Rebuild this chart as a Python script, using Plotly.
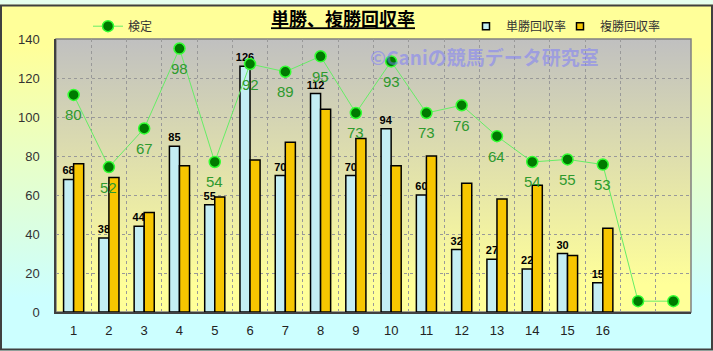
import base64
import plotly.graph_objects as go

# ---------------- data ----------------
categories = list(range(1, 19))
tick_labels = [str(i) for i in range(1, 17)] + ["", ""]
tansho = [68, 38, 44, 85, 55, 126, 70, 112, 70, 94, 60, 32, 27, 22, 30, 15, None, None]
fukusho = [76, 69, 51, 75, 59, 78, 87, 104, 89, 75, 80, 66, 58, 65, 29, 43, None, None]
kentei = [80, 52, 67, 98, 54, 92, 89, 95, 73, 93, 73, 76, 64, 54, 55, 53, 0, 0]
kentei_labels = [str(v) for v in kentei[:16]] + ["", ""]

BLUE = "#C4EEF4"
GOLD = "#F7C600"

W, H = 713, 351
ML, MR, MT, MB = 56, 22, 35, 39
PW, PH = W - ML - MR, H - MT - MB


def px_x(p):
    return (p - ML) / PW


def px_y(p):
    return 1 - (p - MT) / PH


def grad_uri(stops):
    s = "".join(f'<stop offset="{o}" stop-color="{c}"/>' for o, c in stops)
    svg = (f'<svg xmlns="http://www.w3.org/2000/svg" width="100" height="100" preserveAspectRatio="none">'
           f'<defs><linearGradient id="g" x1="0" y1="0" x2="0" y2="1">{s}</linearGradient></defs>'
           f'<rect width="100" height="100" fill="url(#g)"/></svg>')
    return "data:image/svg+xml;base64," + base64.b64encode(svg.encode()).decode()


fig = go.Figure()

fig.add_trace(go.Bar(
    x=categories, y=tansho, name="単勝回収率",
    marker=dict(color=BLUE, line=dict(color="#000000", width=1.5)),
    text=[str(v) if v is not None else "" for v in tansho], textposition="outside",
    constraintext="none",
    textfont=dict(family="Liberation Sans, Arial", size=11, color="#000000", weight="bold"),
    cliponaxis=False, showlegend=False,
))
fig.add_trace(go.Bar(
    x=categories, y=fukusho, name="複勝回収率",
    marker=dict(color=GOLD, line=dict(color="#000000", width=1.5)),
    showlegend=False,
))
fig.add_trace(go.Scatter(
    x=categories, y=kentei, name="検定", yaxis="y2", mode="lines+markers",
    line=dict(color="#66EE66", width=1),
    marker=dict(size=11, color="#007A00", line=dict(color="#33FF33", width=1.5)),
    cliponaxis=False, legend="legend",
))
# legend entries for the bar series (small squares like the original)
for nm, col, lg in (("単勝回収率", BLUE, "legend2"), ("複勝回収率", GOLD, "legend3")):
    fig.add_trace(go.Scatter(
        x=[None], y=[None], name=nm, mode="markers",
        marker=dict(symbol="square", size=7, color=col, line=dict(color="#000000", width=1.5)),
        legend=lg,
    ))

for xv, yv, lab in zip(categories, kentei, kentei_labels):
    if lab:
        fig.add_annotation(x=xv, y=yv, xref="x", yref="y2", text=lab, showarrow=False,
                           yshift=-20, font=dict(family="Liberation Sans, Arial", size=15, color="#2E9A2E"))

fig.add_annotation(xref="paper", yref="paper", x=px_x(484), y=px_y(53), text="©Caniの競馬データ研究室",
                   showarrow=False, xanchor="center", yanchor="middle",
                   font=dict(family="Noto Sans CJK JP", size=19, color="rgba(120,120,255,0.5)", weight="bold"))

leg_font = dict(size=12, color="#333333", family="Noto Sans CJK JP")
fig.update_layout(
    width=W, height=H, margin=dict(l=ML, r=MR, t=MT, b=MB),
    paper_bgcolor="#E6FFEE", plot_bgcolor="rgba(0,0,0,0)",
    barmode="group", bargap=0.43, bargroupgap=0,
    font=dict(family="Liberation Sans, Noto Sans CJK JP", size=13, color="#333333"),
    title=dict(text="<b><u>単勝、複勝回収率</u></b>", x=343 / W, y=1 - 20 / H, xanchor="center", yanchor="middle",
               xref="container", yref="container",
               font=dict(family="Noto Sans CJK JP", size=18, color="#000000")),
    xaxis=dict(range=[0.5, 18.5], tickmode="array", tickvals=categories, ticktext=tick_labels,
               showgrid=False, zeroline=False, showline=True, linecolor="#404040", linewidth=1.5,
               ticks="", ticklabelstandoff=6, tickfont=dict(size=13, color="#222222"),
               minor=dict(tick0=0.5, dtick=1, showgrid=True, gridcolor="#999999", griddash="dot", gridwidth=1)),
    yaxis=dict(range=[0, 140], dtick=20, showgrid=True, gridcolor="#999999", griddash="dot", gridwidth=1,
               zeroline=False, showline=True, linecolor="#404040", linewidth=1.5, ticks="",
               ticklabelstandoff=12, tickfont=dict(size=13, color="#333333")),
    yaxis2=dict(range=[-4.2, 101.7], overlaying="y", visible=False),
    legend=dict(x=px_x(88), y=px_y(22), xanchor="left", yanchor="middle", orientation="h",
                bgcolor="rgba(0,0,0,0)", font=leg_font),
    legend2=dict(x=px_x(466), y=px_y(22), xanchor="left", yanchor="middle", orientation="h",
                 bgcolor="rgba(0,0,0,0)", itemwidth=30, font=leg_font),
    legend3=dict(x=px_x(560), y=px_y(22), xanchor="left", yanchor="middle", orientation="h",
                 bgcolor="rgba(0,0,0,0)", itemwidth=30, font=leg_font),
    showlegend=True,
    images=[
        dict(source=grad_uri([(0, "#FFFF99"), (0.12, "#FFFF99"), (0.85, "#CCFFFF"), (1, "#CCFFFF")]),
             xref="paper", yref="paper", x=px_x(0), y=px_y(0), sizex=W / PW, sizey=H / PH,
             sizing="stretch", layer="below", xanchor="left", yanchor="top"),
        dict(source=grad_uri([(0, "#C0C0C0"), (0.9, "#FFFF99"), (1, "#FFFF99")]),
             xref="paper", yref="paper", x=0, y=1, sizex=1, sizey=1,
             sizing="stretch", layer="below", xanchor="left", yanchor="top"),
    ],
    shapes=[
        dict(type="rect", xref="paper", yref="paper", x0=0, x1=1, y0=0, y1=1,
             line=dict(color="#808080", width=1.5), layer="below"),
        dict(type="rect", xref="paper", yref="paper", x0=px_x(1), x1=px_x(W - 1), y0=px_y(H - 1), y1=px_y(1),
             line=dict(color="#404040", width=2), layer="above"),
    ],
)

fig.write_html("out.html")
